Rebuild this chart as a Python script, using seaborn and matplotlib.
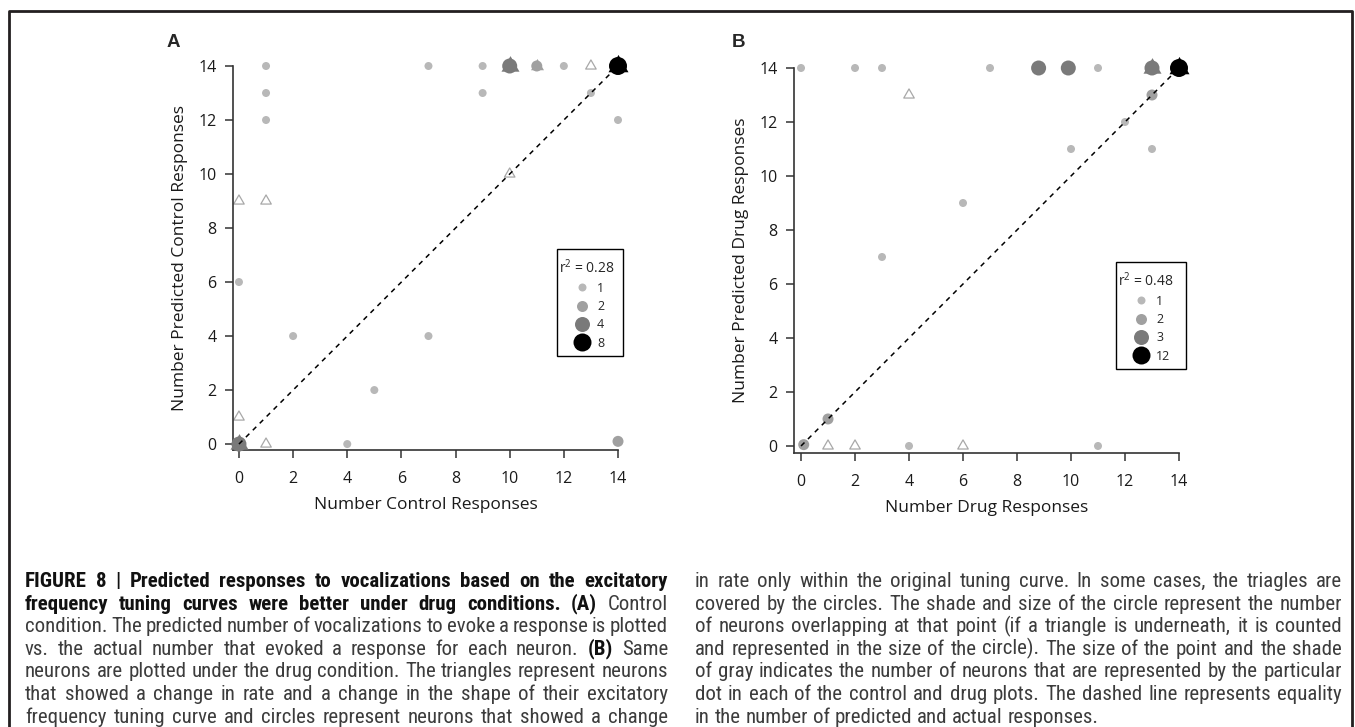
import numpy as np
import pandas as pd
import matplotlib
matplotlib.use("Agg")
import matplotlib.pyplot as plt
import seaborn as sns
from matplotlib.lines import Line2D
from matplotlib.path import Path
from matplotlib.patches import Rectangle
from matplotlib.legend_handler import HandlerLine2D

# ---------------- data ----------------
# Panel A : control condition (circles: x, y, number of neurons)
a_circ_x = [1, 1, 1, 0, 7, 9, 9, 10, 11, 12, 13, 14, 14, 2, 7, 5, 4, 14, 0]
a_circ_y = [14, 13, 12, 6, 14, 14, 13, 14, 14, 14, 13, 14, 12, 4, 4, 2, 0, 0.1, 0]
a_circ_n = [1, 1, 1, 1, 1, 1, 1, 4, 2, 1, 1, 8, 1, 1, 1, 1, 1, 2, 4]
a_open_tri_x = [0, 1, 10, 13, 0, 1]
a_open_tri_y = [9, 9, 10, 14, 1, 0]
a_cov_tri_x = [10, 11, 14, 0]
a_cov_tri_y = [14, 14, 14, 0]
a_cov_tri_n = [4, 2, 8, 4]
a_legend_n = [1, 2, 4, 8]
a_r2 = "0.28"

# Panel B : drug condition
b_circ_x = [0, 2, 3, 7, 8.8, 9.9, 11, 13, 14, 13, 12, 10, 13, 6, 3, 0.1, 1, 4, 11]
b_circ_y = [14, 14, 14, 14, 14, 14, 14, 14, 14, 13, 12, 11, 11, 9, 7, 0.05, 1, 0, 0]
b_circ_n = [1, 1, 1, 1, 3, 3, 1, 3, 12, 2, 1, 1, 1, 1, 1, 2, 2, 1, 1]
b_open_tri_x = [4, 1, 2, 6]
b_open_tri_y = [13, 0, 0, 0]
b_cov_tri_x = [13, 14]
b_cov_tri_y = [14, 14]
b_cov_tri_n = [3, 12]
b_legend_n = [1, 2, 3, 12]
b_r2 = "0.48"

ticks = [0, 2, 4, 6, 8, 10, 12, 14]

# ---------------- styling ----------------
W, H = 1355, 727
DPI = 100
sns.set_theme(style="ticks")
plt.rcParams["font.family"] = ["Open Sans", "DejaVu Sans"]
plt.rcParams["mathtext.default"] = "regular"

shade = ["#b8b8b8", "#a0a0a0", "#7a7a7a", "#000000"]
diam_px = [8, 11, 15, 18]
tri_w_px = [10, 13, 18, 20]

# equilateral triangle centred on its centroid (R-style pch 2 / 17)
TRI = Path([(0, 1), (-0.866, -0.5), (0.866, -0.5), (0, 1)],
           [Path.MOVETO, Path.LINETO, Path.LINETO, Path.CLOSEPOLY])


def tri_s(width_px):
    return (1.155 * width_px * 0.72) ** 2


def rank_maps(levels):
    pal, siz, tsz = {}, {}, {}
    for i, lv in enumerate(levels):
        pal[lv] = shade[i]
        siz[lv] = (diam_px[i] * 0.72) ** 2
        tsz[lv] = tri_s(tri_w_px[i])
    return pal, siz, tsz


fig = plt.figure(figsize=(W / DPI, H / DPI), dpi=DPI)


def panel(rect, xlim0, ylim0, cx, cy, cn, ox, oy, tx, ty, tn, levels, r2,
          xlabel, ylabel, box):
    ax = fig.add_axes(rect)
    pal, siz, tsz = rank_maps(levels)
    # open triangles
    sns.scatterplot(x=ox, y=oy, marker=TRI, s=tri_s(10.5), color="#b0b0b0",
                    facecolor="none", edgecolor="#a8a8a8", linewidth=0.9,
                    ax=ax, clip_on=False, zorder=2, legend=False)
    # covered (filled) triangles under circles
    dft = pd.DataFrame({"x": tx, "y": ty, "n": tn})
    for lv, g in dft.groupby("n"):
        sns.scatterplot(x=g["x"], y=g["y"], marker=TRI, s=tsz[lv], color=pal[lv],
                        linewidth=0, ax=ax, clip_on=False, zorder=3, legend=False)
    # circles
    dfc = pd.DataFrame({"x": cx, "y": cy, "n": cn})
    sns.scatterplot(data=dfc, x="x", y="y", hue="n", size="n", palette=pal,
                    sizes=siz, hue_order=levels, size_order=levels,
                    linewidth=0, ax=ax, clip_on=False, zorder=4, legend=False)
    # equality line
    sns.lineplot(x=[0, 14], y=[0, 14], color="black", linestyle=(0, (3.2, 3.2)),
                 linewidth=1.1, ax=ax, zorder=5)
    ax.set_xlim(xlim0, 14)
    ax.set_ylim(ylim0, 14)
    ax.set_xticks(ticks)
    ax.set_yticks(ticks)
    ax.set_xticklabels([str(t) for t in ticks])
    ax.set_yticklabels([str(t) for t in ticks])
    sns.despine(ax=ax)
    for s in ("left", "bottom"):
        ax.spines[s].set_linewidth(1.2)
        ax.spines[s].set_color("#333333")
    ax.tick_params(axis="both", direction="out", length=6, width=1.1,
                   color="#333333", labelsize=11.5, labelcolor="#1a1a1a")
    ax.tick_params(axis="x", pad=9)
    ax.tick_params(axis="y", pad=6)
    ax.set_xlabel(xlabel, fontsize=12.5, labelpad=7, color="#1a1a1a")
    ax.set_ylabel(ylabel, fontsize=12.5, labelpad=7, color="#1a1a1a")
    # legend frame (inside the axes so the legend can be drawn above it)
    x0, y0, x1, y1 = box
    ax.add_patch(Rectangle((x0 / W, 1 - y1 / H), (x1 - x0) / W, (y1 - y0) / H,
                           transform=fig.transFigure, facecolor="white",
                           edgecolor="black", linewidth=1.0, zorder=6,
                           clip_on=False))
    handles = [Line2D([], [], linestyle="none", marker="o",
                      markersize=diam_px[i] * 0.72, markerfacecolor=shade[i],
                      markeredgewidth=0) for i in range(len(levels))]
    lg = ax.legend(handles, [str(v) for v in levels], title="r$^2$ = " + r2,
                   loc="upper left",
                   bbox_to_anchor=((x0 + 2) / W, 1 - (y0 + 9) / H),
                   bbox_transform=fig.transFigure,
                   frameon=False, fontsize=9, title_fontsize=10,
                   alignment="left", borderpad=0, handlelength=2.9,
                   handletextpad=0.15, labelspacing=0.42, borderaxespad=0,
                   handler_map={Line2D: HandlerLine2D(numpoints=1, xpad=0.8)})
    lg.set_zorder(8)
    return ax


panel([233 / W, 1 - 450 / H, 385 / W, 384 / H], -0.22, -0.22,
      a_circ_x, a_circ_y, a_circ_n, a_open_tri_x, a_open_tri_y,
      a_cov_tri_x, a_cov_tri_y, a_cov_tri_n, a_legend_n, a_r2,
      "Number Control Responses", "Number Predicted Control Responses",
      (557, 249, 623, 356))
panel([794 / W, 1 - 453 / H, 385 / W, 385 / H], -0.26, -0.26,
      b_circ_x, b_circ_y, b_circ_n, b_open_tri_x, b_open_tri_y,
      b_cov_tri_x, b_cov_tri_y, b_cov_tri_n, b_legend_n, b_r2,
      "Number Drug Responses", "Number Predicted Drug Responses",
      (1116, 262, 1186, 369))

# panel letters
fig.text(167 / W, 1 - 47 / H, "A", fontsize=13.5, fontweight="bold",
         family=["Liberation Sans", "DejaVu Sans"], va="baseline")
fig.text(732 / W, 1 - 47 / H, "B", fontsize=13.5, fontweight="bold",
         family=["Liberation Sans", "DejaVu Sans"], va="baseline")

# frame around the figure area
fig.add_artist(Line2D([9 / W, 9 / W, 1352 / W, 1352 / W],
                      [0, 1 - 11 / H, 1 - 11 / H, 0],
                      transform=fig.transFigure, color="#231f20", lw=2.0))

# ---------------- caption (justified) ----------------
left_lines = [
    [("FIGURE 8 | Predicted responses to vocalizations based on the excitatory", True)],
    [("frequency tuning curves were better under drug conditions. (A)", True), ("Control", False)],
    [("condition. The predicted number of vocalizations to evoke a response is plotted", False)],
    [("vs. the actual number that evoked a response for each neuron.", False), ("(B)", True), ("Same", False)],
    [("neurons are plotted under the drug condition. The triangles represent neurons", False)],
    [("that showed a change in rate and a change in the shape of their excitatory", False)],
    [("frequency tuning curve and circles represent neurons that showed a change", False)],
]
right_lines = [
    [("in rate only within the original tuning curve. In some cases, the triagles are", False)],
    [("covered by the circles. The shade and size of the circle represent the number", False)],
    [("of neurons overlapping at that point (if a triangle is underneath, it is counted", False)],
    [("and represented in the size of the circle). The size of the point and the shade", False)],
    [("of gray indicates the number of neurons that are represented by the particular", False)],
    [("dot in each of the control and drug plots. The dashed line represents equality", False)],
    [("in the number of predicted and actual responses.", False)],
]

cap_family = ["Roboto Condensed", "Liberation Sans Narrow", "Arial Narrow",
              "Liberation Sans", "DejaVu Sans"]
renderer = fig.canvas.get_renderer()

# choose font size so that a full line has the reference width
probe = fig.text(0, 0, right_lines[1][0][0], fontsize=14, family=cap_family)
pw = probe.get_window_extent(renderer).width
probe.remove()
cap_fs = min(14 * 640.0 / pw, 15.0)


def draw_line(segs, x0, x1, ybase, justify):
    words = []
    for txt, bold in segs:
        for w in txt.split(" "):
            if w:
                words.append((w, bold))
    arts, widths = [], []
    for w, bold in words:
        t = fig.text(0, 0, w, fontsize=cap_fs, family=cap_family,
                     fontweight="bold" if bold else "normal",
                     color="#111111" if bold else "#3c3c3c", va="baseline")
        arts.append(t)
        widths.append(t.get_window_extent(renderer).width)
    sp = fig.text(0, 0, "a a", fontsize=cap_fs, family=cap_family)
    sp2 = fig.text(0, 0, "aa", fontsize=cap_fs, family=cap_family)
    space = sp.get_window_extent(renderer).width - sp2.get_window_extent(renderer).width
    sp.remove()
    sp2.remove()
    if justify and len(words) > 1:
        gap = (x1 - x0 - sum(widths)) / (len(words) - 1)
    else:
        gap = space
    x = x0
    for t, wd in zip(arts, widths):
        t.set_position((x / W, 1 - ybase / H))
        x += wd + gap


base0, step = 587, 22.6
for i, segs in enumerate(left_lines):
    draw_line(segs, 25, 668, base0 + i * step, True)
for i, segs in enumerate(right_lines):
    draw_line(segs, 695, 1342, base0 + i * step, i < len(right_lines) - 1)

fig.savefig("out.png", dpi=DPI)
